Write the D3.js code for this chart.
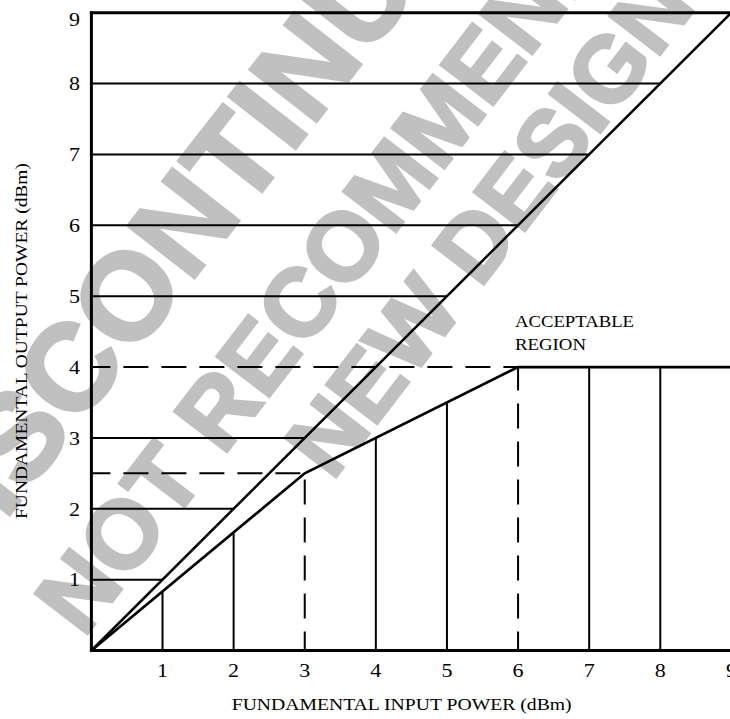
<!DOCTYPE html>
<html>
<head>
<meta charset="utf-8">
<script src="https://cdn.jsdelivr.net/npm/d3@7"></script>
<style>
  html, body { margin: 0; padding: 0; background: #fff; }
  svg { display: block; }
</style>
</head>
<body>
<svg id="chart" width="730" height="719"></svg>
<script>
// ---- data ----
const xTicks = [1, 2, 3, 4, 5, 6, 7, 8, 9];
const yTicks = [1, 2, 3, 4, 5, 6, 7, 8, 9];
const unityLine = [[0, 0], [9, 9]];                 // output = input
const limitCurve = [[0, 0], [3, 2.5], [6, 4], [9, 4]]; // acceptable-region boundary
const hGridLevels = [1, 2, 3, 5, 6, 7, 8];          // solid horizontals (axis -> unity line)
const vGridLevels = [1, 2, 4, 5, 7, 8];             // solid verticals (axis -> boundary)
const dashedMarks = [[3, 2.5], [6, 4]];             // dashed reference points
const regionLabel = ["ACCEPTABLE", "REGION"];
const xTitle = "FUNDAMENTAL INPUT POWER (dBm)";
const yTitle = "FUNDAMENTAL OUTPUT POWER (dBm)";
const watermarkLines = ["DISCONTINUED", "NOT RECOMMENDED FOR", "NEW DESIGNS"];

// ---- scales ----
const x = d3.scaleLinear().domain([0, 9]).range([91.4, 731.4]);
const y = d3.scaleLinear().domain([0, 9]).range([650.5, 12.7]);

const svg = d3.select("#chart");

// boundary interpolation from the limit curve points
function boundaryAt(v) {
  for (let i = 1; i < limitCurve.length; i++) {
    const [x0, y0] = limitCurve[i - 1], [x1, y1] = limitCurve[i];
    if (v <= x1) return y0 + (y1 - y0) * (v - x0) / (x1 - x0);
  }
  return limitCurve[limitCurve.length - 1][1];
}

// ---- watermark (behind) ----
const wmStyle = [
  { size: 123, cx: 203, cy: 195, rot: -52 },
  { size: 96,  cx: 431, cy: 129, rot: -52.5 },
  { size: 93,  cx: 507, cy: 199, rot: -52.5 }
];
const wm = svg.append("g").attr("class", "watermark");
watermarkLines.forEach((t, i) => {
  const s = wmStyle[i];
  wm.append("text")
    .attr("transform", `translate(${s.cx},${s.cy}) rotate(${s.rot})`)
    .attr("text-anchor", "middle")
    .attr("dy", "0.36em")
    .attr("font-family", "'Liberation Sans', Arial, sans-serif")
    .attr("font-weight", "bold")
    .attr("font-size", s.size)
    .attr("fill", "#c0c0c0")
    .attr("stroke", "#c0c0c0")
    .attr("stroke-width", 3)
    .attr("stroke-linejoin", "miter")
    .text(t);
});

const g = svg.append("g");
const line = d3.line().x(d => x(d[0])).y(d => y(d[1]));

// horizontal solid grid lines
g.selectAll(".hgrid").data(hGridLevels).enter().append("line")
  .attr("x1", x(0)).attr("x2", d => x(d))
  .attr("y1", d => y(d)).attr("y2", d => y(d))
  .attr("stroke", "#000").attr("stroke-width", 2);

// vertical solid grid lines
g.selectAll(".vgrid").data(vGridLevels).enter().append("line")
  .attr("x1", d => x(d)).attr("x2", d => x(d))
  .attr("y1", y(0)).attr("y2", d => y(boundaryAt(d)))
  .attr("stroke", "#000").attr("stroke-width", 2);

// dashed reference lines
dashedMarks.forEach(([px, py]) => {
  g.append("line")
    .attr("x1", x(0)).attr("x2", x(px))
    .attr("y1", y(py)).attr("y2", y(py))
    .attr("stroke", "#000").attr("stroke-width", 2)
    .attr("stroke-dasharray", "25,13").attr("stroke-dashoffset", 6);
  g.append("line")
    .attr("x1", x(px)).attr("x2", x(px))
    .attr("y1", y(0)).attr("y2", y(py))
    .attr("stroke", "#000").attr("stroke-width", 2)
    .attr("stroke-dasharray", "25,13").attr("stroke-dashoffset", 6);
});

// unity line
g.append("path").datum(unityLine).attr("d", line)
  .attr("fill", "none").attr("stroke", "#000").attr("stroke-width", 2.5);

// acceptable boundary
g.append("path").datum(limitCurve).attr("d", line)
  .attr("fill", "none").attr("stroke", "#000").attr("stroke-width", 2.7)
  .attr("stroke-linejoin", "miter");

// frame: left axis, bottom axis, top line
g.append("line").attr("x1", x(0)).attr("x2", x(0)).attr("y1", y(9) - 1.5).attr("y2", y(0) + 1.5)
  .attr("stroke", "#000").attr("stroke-width", 3);
g.append("line").attr("x1", x(0) - 1.5).attr("x2", x(9)).attr("y1", y(0)).attr("y2", y(0))
  .attr("stroke", "#000").attr("stroke-width", 3);
g.append("line").attr("x1", x(0) - 1.5).attr("x2", x(9)).attr("y1", y(9)).attr("y2", y(9))
  .attr("stroke", "#000").attr("stroke-width", 3);

// ---- text ----
const serif = "'Liberation Serif', 'Times New Roman', serif";

g.selectAll(".ytick").data(yTicks).enter().append("text")
  .attr("x", 80).attr("y", d => Math.max(y(d), 19))
  .attr("dy", "0.36em")
  .attr("text-anchor", "end")
  .attr("font-family", serif).attr("font-size", 19)
  .attr("textLength", 11).attr("lengthAdjust", "spacingAndGlyphs")
  .text(d => d);

g.selectAll(".xtick").data(xTicks).enter().append("text")
  .attr("x", d => x(d)).attr("y", 677)
  .attr("text-anchor", "middle")
  .attr("font-family", serif).attr("font-size", 19)
  .attr("textLength", 11).attr("lengthAdjust", "spacingAndGlyphs")
  .text(d => d);

g.append("text")
  .attr("x", 231.7).attr("y", 710)
  .attr("font-family", serif).attr("font-size", 17.6)
  .attr("textLength", 340).attr("lengthAdjust", "spacingAndGlyphs")
  .text(xTitle);

g.append("text")
  .attr("transform", `translate(27,519) rotate(-90)`)
  .attr("font-family", serif).attr("font-size", 17.6)
  .attr("textLength", 356).attr("lengthAdjust", "spacingAndGlyphs")
  .text(yTitle);

const regionWidths = [119, 71];
regionLabel.forEach((t, i) => {
  g.append("text")
    .attr("x", 515).attr("y", 327 + i * 23)
    .attr("font-family", serif).attr("font-size", 17.6)
    .attr("textLength", regionWidths[i]).attr("lengthAdjust", "spacingAndGlyphs")
    .text(t);
});
</script>
</body>
</html>
